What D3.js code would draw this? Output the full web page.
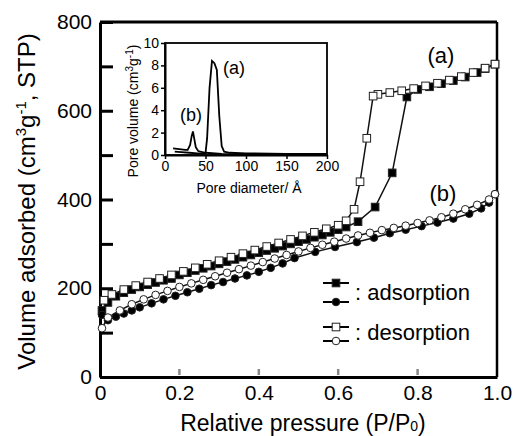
<!DOCTYPE html>
<html>
<head>
<meta charset="utf-8">
<script src="https://cdn.jsdelivr.net/npm/d3@7"></script>
<style>
  body { margin: 0; background: #fff; }
  svg { font-family: "Liberation Sans", Arial, sans-serif; }
</style>
</head>
<body>
<svg id="chart" width="513" height="436"></svg>
<script>
// isotherm (a): squares, (b): circles
const aAdsP = [0.005, 0.02, 0.04, 0.06, 0.08, 0.10, 0.12, 0.14, 0.16, 0.18, 0.20, 0.22, 0.24, 0.26, 0.28, 0.30, 0.32, 0.34, 0.36, 0.38, 0.40, 0.42, 0.44, 0.46, 0.48, 0.50, 0.52, 0.54, 0.56, 0.58, 0.60, 0.62, 0.65, 0.693, 0.736, 0.773, 0.80, 0.83, 0.86, 0.89, 0.92, 0.95, 0.97, 0.995];
const aAdsV = [150, 168, 182, 190, 197, 203, 208, 213, 218, 222, 230, 235, 240, 245, 250, 255, 260, 265, 270, 275, 280, 285, 290, 295, 300, 305, 310, 315, 320, 326, 332, 338, 350, 383, 460, 631, 648, 654, 661, 668, 676, 686, 695, 705];
const aDesP = [0.995, 0.97, 0.94, 0.91, 0.88, 0.85, 0.82, 0.79, 0.76, 0.73, 0.70, 0.688, 0.672, 0.655, 0.64, 0.62, 0.60, 0.57, 0.54, 0.51, 0.48, 0.45, 0.42, 0.39, 0.36, 0.33, 0.30, 0.27, 0.24, 0.21, 0.18, 0.15, 0.12, 0.09, 0.06, 0.03, 0.01];
const aDesV = [705, 696, 686, 677, 669, 662, 656, 650, 645, 641, 637, 633, 538, 440, 378, 352, 342, 334, 326, 318, 310, 302, 294, 286, 278, 270, 262, 254, 246, 238, 230, 222, 214, 206, 197, 186, 173];
const bAdsP = [0.005, 0.02, 0.04, 0.06, 0.08, 0.10, 0.13, 0.16, 0.19, 0.22, 0.25, 0.28, 0.31, 0.34, 0.37, 0.40, 0.43, 0.46, 0.49, 0.542, 0.592, 0.647, 0.69, 0.73, 0.77, 0.81, 0.85, 0.89, 0.93, 0.96, 0.98, 0.995];
const bAdsV = [140, 128, 136, 143, 150, 157, 166, 175, 183, 191, 199, 207, 214, 222, 229, 237, 246, 256, 268, 282, 293, 304, 314, 324, 332, 340, 348, 357, 368, 380, 393, 412];
const bDesP = [0.995, 0.98, 0.95, 0.92, 0.89, 0.86, 0.83, 0.80, 0.77, 0.74, 0.71, 0.68, 0.65, 0.62, 0.59, 0.56, 0.53, 0.50, 0.47, 0.44, 0.41, 0.38, 0.35, 0.32, 0.29, 0.26, 0.23, 0.20, 0.17, 0.14, 0.11, 0.08, 0.05, 0.02, 0.005];
const bDesV = [412, 400, 388, 378, 368, 360, 353, 347, 341, 336, 331, 325, 319, 312, 305, 298, 291, 283, 275, 267, 259, 251, 243, 235, 227, 219, 211, 203, 194, 185, 175, 164, 150, 134, 110];

// inset: pore size distribution
const psdAD = [12, 20, 30, 40, 50, 52, 55, 58, 61, 64, 67, 70, 73, 80, 100, 150, 200];
const psdAV = [0.3, 0.25, 0.2, 0.15, 0.15, 1.5, 6.0, 8.4, 8.2, 7.6, 3.5, 0.8, 0.3, 0.2, 0.15, 0.1, 0.1];
const psdBD = [10, 15, 20, 25, 28, 31, 33, 34.5, 36, 38, 41, 50, 70, 100, 150, 200];
const psdBV = [0.6, 0.55, 0.5, 0.45, 0.45, 0.9, 1.7, 2.1, 1.5, 0.7, 0.35, 0.2, 0.1, 0.05, 0.05, 0.05];

const xTicks = [0, 0.2, 0.4, 0.6, 0.8, 1.0];
const yTicks = d3.range(0, 801, 100);
const insetXTicks = [0, 50, 100, 150, 200];
const insetYTicks = [0, 2, 4, 6, 8, 10];

const svg = d3.select('#chart');

const x = d3.scaleLinear().domain([0, 1]).range([100, 497]);
const y = d3.scaleLinear().domain([0, 800]).range([377, 22]);

// frame
svg.append('line')
  .attr('x1', x(0)).attr('x2', x(1)).attr('y1', y(800)).attr('y2', y(800))
  .attr('stroke', '#000').attr('stroke-width', 3);
svg.append('line')
  .attr('x1', x(1)).attr('x2', x(1)).attr('y1', y(800)).attr('y2', y(0))
  .attr('stroke', '#000').attr('stroke-width', 2.5);

// faint x ticks
svg.append('g')
  .selectAll('line')
  .data(xTicks.slice(1, 5))
  .enter()
    .append('line')
    .attr('x1', d => x(d)).attr('x2', d => x(d))
    .attr('y1', y(0) - 8).attr('y2', y(0) - 2)
    .attr('stroke', '#888').attr('stroke-width', 2.5);

const yAxis = svg.append('g')
  .attr('transform', `translate(${x(0)},0)`)
  .call(d3.axisLeft(y).tickValues(yTicks).tickSize(-13).tickSizeOuter(0).tickPadding(8)
    .tickFormat(d => d % 200 === 0 ? d : ''));
yAxis.select('.domain').attr('stroke-width', 3);
yAxis.selectAll('.tick line').attr('stroke-width', 3);
yAxis.selectAll('text').style('font-size', '21px').attr('fill', '#000');

const xAxis = svg.append('g')
  .attr('transform', `translate(0,${y(0)})`)
  .call(d3.axisBottom(x).tickValues(xTicks).tickSize(0).tickSizeOuter(0).tickPadding(8)
    .tickFormat(d => d === 0 ? '0' : d.toFixed(1)));
xAxis.select('.domain').attr('stroke-width', 3);
xAxis.selectAll('text').style('font-size', '21px').attr('fill', '#000');

// axis titles
svg.append('text')
  .attr('transform', `translate(35,${(y(0) + y(800)) / 2 + 2}) rotate(-90)`)
  .attr('text-anchor', 'middle')
  .style('font-size', '24px')
  .html('Volume adsorbed (cm<tspan dy="-9" font-size="15">3</tspan><tspan dy="9">g</tspan><tspan dy="-9" font-size="15">-1</tspan><tspan dy="9">, STP)</tspan>');

svg.append('text')
  .attr('x', 303).attr('y', 431)
  .attr('text-anchor', 'middle')
  .style('font-size', '23px')
  .html('Relative pressure (P/P<tspan font-size="14">0</tspan>)');

// isotherms
const series = [
  { p: aAdsP, v: aAdsV, shape: 'square', fill: '#000' },
  { p: aDesP, v: aDesV, shape: 'square', fill: '#fff' },
  { p: bAdsP, v: bAdsV, shape: 'circle', fill: '#000' },
  { p: bDesP, v: bDesV, shape: 'circle', fill: '#fff' }
];

const line = d3.line().x(d => x(d[0])).y(d => y(d[1]));

series.forEach(s => {
  const pts = s.p.map((p, i) => [p, s.v[i]]);
  svg.append('path')
    .datum(pts)
    .attr('d', line)
    .attr('fill', 'none')
    .attr('stroke', '#111')
    .attr('stroke-width', 1.5);
});

function drawMarkers(g, pts, shape, fill) {
  if (shape === 'square') {
    g.selectAll('rect')
      .data(pts)
      .enter()
        .append('rect')
        .attr('x', d => d[0] - 3.8).attr('y', d => d[1] - 3.8)
        .attr('width', 7.6).attr('height', 7.6)
        .attr('fill', fill).attr('stroke', '#222').attr('stroke-width', 1);
  } else {
    g.selectAll('circle')
      .data(pts)
      .enter()
        .append('circle')
        .attr('cx', d => d[0]).attr('cy', d => d[1]).attr('r', 3.8)
        .attr('fill', fill).attr('stroke', '#222').attr('stroke-width', 1);
  }
}

series.forEach(s => {
  const pts = s.p.map((p, i) => [x(p), y(s.v[i])]);
  drawMarkers(svg.append('g'), pts, s.shape, s.fill);
});

// labels (a) (b)
svg.append('text').attr('x', 441).attr('y', 63).attr('text-anchor', 'middle')
  .style('font-size', '22px').text('(a)');
svg.append('text').attr('x', 443).attr('y', 201).attr('text-anchor', 'middle')
  .style('font-size', '22px').text('(b)');

// legend
const legend = [
  { label: ': adsorption', fill: '#000', y1: 283, y2: 302, ty: 300 },
  { label: ': desorption', fill: '#fff', y1: 327, y2: 341, ty: 340 }
];
legend.forEach(l => {
  const g = svg.append('g');
  [l.y1, l.y2].forEach(yy => {
    g.append('line').attr('x1', 323).attr('x2', 349).attr('y1', yy).attr('y2', yy)
      .attr('stroke', '#000').attr('stroke-width', 2);
  });
  drawMarkers(g.append('g'), [[336, l.y1]], 'square', l.fill);
  drawMarkers(g.append('g'), [[336, l.y2]], 'circle', l.fill);
  g.append('text').attr('x', 355).attr('y', l.ty)
    .style('font-size', '22px').text(l.label);
});

// inset
const ix = d3.scaleLinear().domain([0, 200]).range([165, 327]);
const iy = d3.scaleLinear().domain([0, 10]).range([155, 43]);

svg.append('rect')
  .attr('x', ix(0)).attr('y', iy(10))
  .attr('width', ix(200) - ix(0)).attr('height', iy(0) - iy(10))
  .attr('fill', '#fff').attr('stroke', '#000').attr('stroke-width', 1.8);

const ixAxis = svg.append('g')
  .attr('transform', `translate(0,${iy(0)})`)
  .call(d3.axisBottom(ix).tickValues(insetXTicks).tickSize(4).tickSizeOuter(0).tickPadding(2));
ixAxis.select('.domain').attr('stroke-width', 2);
ixAxis.selectAll('.tick line').attr('stroke-width', 1.5);
ixAxis.selectAll('text').style('font-size', '14px').attr('fill', '#000');

const iyAxis = svg.append('g')
  .attr('transform', `translate(${ix(0)},0)`)
  .call(d3.axisLeft(iy).tickValues(insetYTicks).tickSize(4).tickSizeOuter(0).tickPadding(2));
iyAxis.select('.domain').attr('stroke-width', 2);
iyAxis.selectAll('.tick line').attr('stroke-width', 1.5);
iyAxis.selectAll('text').style('font-size', '14px').attr('fill', '#000');

const iline = d3.line().x(d => ix(d[0])).y(d => iy(d[1]));
[[psdAD, psdAV], [psdBD, psdBV]].forEach(([ds, vs]) => {
  svg.append('path')
    .datum(ds.map((d, i) => [d, vs[i]]))
    .attr('d', iline)
    .attr('fill', 'none')
    .attr('stroke', '#000')
    .attr('stroke-width', 1.8);
});

svg.append('text').attr('x', 234).attr('y', 74).attr('text-anchor', 'middle')
  .style('font-size', '18px').text('(a)');
svg.append('text').attr('x', 191).attr('y', 121).attr('text-anchor', 'middle')
  .style('font-size', '18px').text('(b)');

svg.append('text')
  .attr('x', 249).attr('y', 193).attr('text-anchor', 'middle')
  .style('font-size', '14px').text('Pore diameter/ Å');

svg.append('text')
  .attr('transform', `translate(138,${(iy(0) + iy(10)) / 2 + 12}) rotate(-90)`)
  .attr('text-anchor', 'middle')
  .style('font-size', '14px')
  .html('Pore volume (cm<tspan dy="-5" font-size="10">3</tspan><tspan dy="5">g</tspan><tspan dy="-5" font-size="10">-1</tspan><tspan dy="5">)</tspan>');
</script>
</body>
</html>
